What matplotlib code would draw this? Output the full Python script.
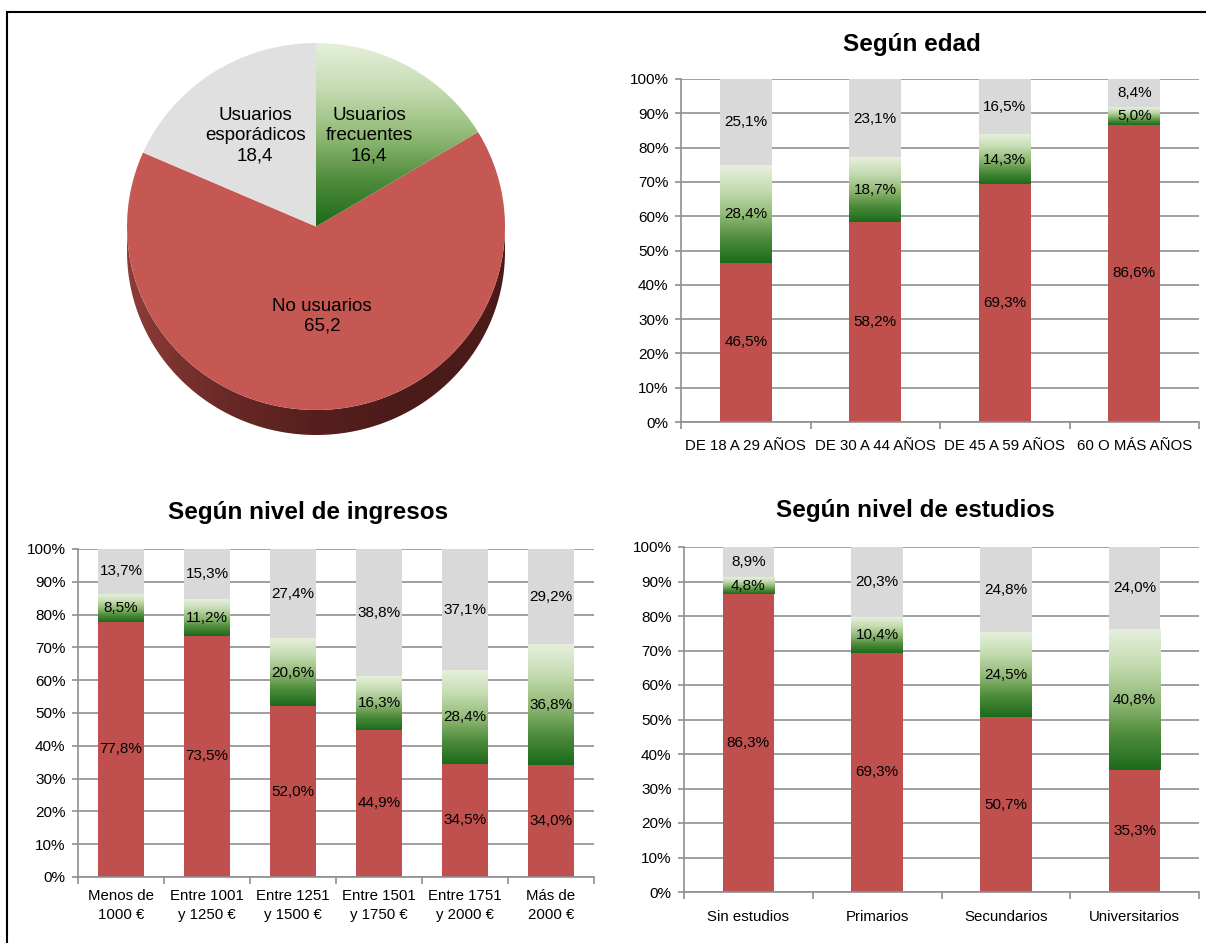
import numpy as np
import matplotlib
matplotlib.use("Agg")
import matplotlib.pyplot as plt
from matplotlib.colors import LinearSegmentedColormap
from matplotlib.patches import Rectangle, PathPatch
from matplotlib.path import Path

plt.rcParams['font.family'] = ['Liberation Sans', 'DejaVu Sans']

# ---- data -------------------------------------------------------------
pie_labels = ['Usuarios\nfrecuentes', 'No usuarios', 'Usuarios\nesporádicos']
pie_values = [16.4, 65.2, 18.4]

edad_cats = ['DE 18 A 29 AÑOS', 'DE 30 A 44 AÑOS', 'DE 45 A 59 AÑOS', '60 O MÁS AÑOS']
edad_no = [46.5, 58.2, 69.3, 86.6]
edad_frec = [28.4, 18.7, 14.3, 5.0]
edad_espor = [25.1, 23.1, 16.5, 8.4]

ingr_cats = ['Menos de\n1000 €', 'Entre 1001\ny 1250 €', 'Entre 1251\ny 1500 €',
             'Entre 1501\ny 1750 €', 'Entre 1751\ny 2000 €', 'Más de\n2000 €']
ingr_no = [77.8, 73.5, 52.0, 44.9, 34.5, 34.0]
ingr_frec = [8.5, 11.2, 20.6, 16.3, 28.4, 36.8]
ingr_espor = [13.7, 15.3, 27.4, 38.8, 37.1, 29.2]

estu_cats = ['Sin estudios', 'Primarios', 'Secundarios', 'Universitarios']
estu_no = [86.3, 69.3, 50.7, 35.3]
estu_frec = [4.8, 10.4, 24.5, 40.8]
estu_espor = [8.9, 20.3, 24.8, 24.0]

# ---- styling ----------------------------------------------------------
RED = '#c0504d'
PIE_RED = '#c65854'
GRAY = '#d9d9d9'
PIE_GRAY = '#e0e0e0'
GRID = '#8f8f8f'
GREEN = LinearSegmentedColormap.from_list(
    'green', ['#1b6b1b', '#4f8c3c', '#93bb78', '#c5dcb2', '#e6f0dc'])
SIDE = LinearSegmentedColormap.from_list(
    'side', ['#8e3d39', '#6a2a27', '#561f1d', '#4a1b19', '#4a1b19'])
FS = 11

W, H = 1206, 943
fig = plt.figure(figsize=(W / 100, H / 100), dpi=100)
fig.patch.set_facecolor('white')


def fx(px):
    return px / W


def fy(py):
    return 1 - py / H


def pct(v):
    return f"{v:.1f}".replace('.', ',') + '%'


grad = np.linspace(0, 1, 256).reshape(-1, 1)


def stacked(box, cats, no, frec, espor, width, title, title_xy, xpad, ypad=5):
    l, t, r, b = box
    ax = fig.add_axes([fx(l), fy(b), fx(r - l), (b - t) / H])
    n = len(cats)
    x = np.arange(n)
    no = np.array(no)
    frec = np.array(frec)
    espor = np.array(espor)
    ax.bar(x, no, width, color=RED, zorder=2)
    gbars = ax.bar(x, frec, width, bottom=no, color='none', zorder=2)
    for rect in gbars:
        x0, y0 = rect.get_x(), rect.get_y()
        ax.imshow(grad, extent=(x0, x0 + rect.get_width(), y0, y0 + rect.get_height()),
                  aspect='auto', cmap=GREEN, origin='lower', zorder=2.1,
                  interpolation='bilinear')
    ax.bar(x, espor, width, bottom=no + frec, color=GRAY, zorder=2)

    for i in range(n):
        ax.text(x[i], no[i] / 2, pct(no[i]), ha='center', va='center', fontsize=FS, zorder=5)
        ax.text(x[i], no[i] + frec[i] / 2, pct(frec[i]), ha='center', va='center', fontsize=FS, zorder=5)
        ax.text(x[i], no[i] + frec[i] + espor[i] / 2, pct(espor[i]), ha='center', va='center',
                fontsize=FS, zorder=5)

    ax.set_xlim(-0.5, n - 0.5)
    ax.set_ylim(0, 100)
    ax.set_yticks(np.arange(0, 101, 10))
    ax.set_yticklabels([f"{v}%" for v in range(0, 101, 10)], fontsize=FS)
    ax.yaxis.grid(True, color=GRID, lw=1.2, zorder=0)
    ax.set_axisbelow(True)
    ax.set_xticks(x)
    ax.set_xticklabels(cats, fontsize=10.8, linespacing=1.4)
    ax.set_xticks(np.arange(-0.5, n, 1.0), minor=True)
    ax.tick_params(axis='x', which='major', length=0, pad=xpad)
    ax.tick_params(axis='x', which='minor', length=5, color=GRID, width=1.2)
    ax.tick_params(axis='y', length=4, color=GRID, width=1.2, pad=ypad)
    for s in ('top', 'right'):
        ax.spines[s].set_visible(False)
    for s in ('left', 'bottom'):
        ax.spines[s].set_color(GRID)
        ax.spines[s].set_linewidth(1.2)
    fig.text(fx(title_xy[0]), fy(title_xy[1]), title, ha='center', va='center',
             fontsize=17.5, fontweight='bold')
    return ax


stacked((681, 79, 1199, 422), edad_cats, edad_no, edad_frec, edad_espor, 0.40,
        'Según edad', (912, 45), xpad=12)
stacked((78, 549, 594, 877), ingr_cats, ingr_no, ingr_frec, ingr_espor, 0.53,
        'Según nivel de ingresos', (308, 513), xpad=9)
stacked((684, 547, 1199, 892), estu_cats, estu_no, estu_frec, estu_espor, 0.40,
        'Según nivel de estudios', (915, 510), xpad=13)

# ---- 3D-look pie --------------------------------------------------------
cx, cy, rx, ry = 316, 226.5, 189, 183.5
al, at, ar, ab = 100, 25, 530, 455
pax = fig.add_axes([fx(al), fy(ab), fx(ar - al), (ab - at) / H])
xlim = ((al - cx) / rx, (ar - cx) / rx)
ylim = ((cy - ab) / ry, (cy - at) / ry)
depth = 25 / ry

# side rim of the disc
th = np.linspace(np.pi, 2 * np.pi, 200)
lower = np.column_stack([np.cos(th), np.sin(th) - depth])
upper = np.column_stack([np.cos(th[::-1]), np.sin(th[::-1])])
verts = np.vstack([lower, upper, lower[:1]])
codes = [Path.MOVETO] + [Path.LINETO] * (len(verts) - 2) + [Path.CLOSEPOLY]
side_patch = PathPatch(Path(verts, codes), facecolor='none', edgecolor='none')
pax.add_patch(side_patch)
hgrad = np.linspace(0, 1, 256).reshape(1, -1)
im = pax.imshow(hgrad, extent=(-1, 1, -1 - depth, 0), aspect='auto', cmap=SIDE,
                origin='lower', zorder=1, interpolation='bilinear')
im.set_clip_path(side_patch)

wedges, _ = pax.pie(pie_values, startangle=90, counterclock=False, radius=1,
                    colors=['none', PIE_RED, PIE_GRAY],
                    wedgeprops=dict(edgecolor='none', zorder=2))
for w in wedges:
    w.set_zorder(2)
vgrad = np.linspace(0, 1, 256).reshape(-1, 1)
gim = pax.imshow(vgrad, extent=(-1, 1, 0, 1), aspect='auto', cmap=GREEN,
                 origin='lower', zorder=3, interpolation='bilinear')
gim.set_clip_path(wedges[0])

label_r = [0.57, 0.49, 0.59]
for w, lab, v, r in zip(wedges, pie_labels, pie_values, label_r):
    mid = np.deg2rad((w.theta1 + w.theta2) / 2)
    pax.text(r * np.cos(mid), r * np.sin(mid), f"{lab}\n{v:.1f}".replace('.', ','),
             ha='center', va='center', fontsize=13.5, linespacing=1.25, zorder=5)

pax.set_aspect('auto')
pax.set_xlim(*xlim)
pax.set_ylim(*ylim)
pax.axis('off')

# outer frame
fig.add_artist(Rectangle((fx(7), -0.02), 1.05, fy(12) + 0.02, transform=fig.transFigure,
                         fill=False, edgecolor='black', lw=1.5))

fig.savefig('out.png', dpi=100, facecolor='white')
